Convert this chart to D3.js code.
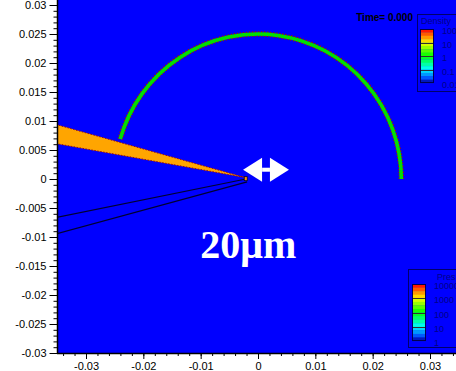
<!DOCTYPE html>
<html><head><meta charset="utf-8">
<script src="https://cdn.jsdelivr.net/npm/d3@7"></script>
<style>html,body{margin:0;padding:0;background:#fff;}svg{display:block;}</style>
</head><body>
<svg id="c" width="456" height="371"></svg>
<script>
// ---- data ----
const xMajorTicks = [-0.03, -0.02, -0.01, 0, 0.01, 0.02, 0.03];
const xTickLabels = ["-0.03", "-0.02", "-0.01", "0", "0.01", "0.02", "0.03"];
const yMajorTicks = [0.03, 0.025, 0.02, 0.015, 0.01, 0.005, 0, -0.005, -0.01, -0.015, -0.02, -0.025, -0.03];
const yTickLabels = ["0.03", "0.025", "0.02", "0.015", "0.01", "0.005", "0", "-0.005", "-0.01", "-0.015", "-0.02", "-0.025", "-0.03"];
// droplet ring (circle centre, radius, angular extent in degrees)
const ringCenter = [0, 0];
const ringRadius = 0.025;
const ringAngles = [0, 164];
// orange wedge (needle) polygon [x, y]
const wedgeX = [-0.00227, -0.0365, -0.0365];
const wedgeY = [0.00026, 0.00975, 0.00633];
// black outline lines of the lower needle
const line1X = [-0.0021, -0.0365];
const line1Y = [0.0, -0.0069];
const line2X = [-0.0019, -0.0365];
const line2Y = [-0.0005, -0.0098];
// annotation
const arrowX = [-0.0026, 0.0054];
const arrowY = 0.0016;
const scaleLabel = "20\u03bcm";
const scaleLabelPos = [-0.0017, -0.0136];
const timeLabel = "Time= 0.000";
// legends
const densityTitle = "Density";
const densityLevels = ["100", "10", "1", "0.1", "0.01"];
const presTitle = "Pres";
const presLevels = ["10000", "1000", "100", "10", "1"];
const bandColors = ["#ff1a00", "#ff5a00", "#ff9a00", "#ffd800",
                    "#d8ff00", "#98ff00", "#58ff00", "#18ff00",
                    "#00ff28", "#00ff68", "#00ffa8", "#00ffe8",
                    "#00d8ff", "#0098ff", "#0058ff", "#0018c0"];

// ---- layout ----
const svg = d3.select("#c");
const plot = {left: 58, right: 456, top: 0, bottom: 353};
const x = d3.scaleLinear().domain([-0.03, 0.03]).range([86, 430]);
const y = d3.scaleLinear().domain([-0.03, 0.03]).range([353, 5]);

svg.append("defs").append("clipPath").attr("id", "clip")
  .append("rect").attr("x", plot.left).attr("y", plot.top)
  .attr("width", plot.right - plot.left).attr("height", plot.bottom - plot.top);

svg.append("rect").attr("x", plot.left).attr("y", plot.top)
  .attr("width", plot.right - plot.left).attr("height", plot.bottom - plot.top)
  .attr("fill", "#0000ff");

const g = svg.append("g").attr("clip-path", "url(#clip)");

// wedge
const wedgePts = wedgeX.map((d, i) => [x(d), y(wedgeY[i])]);
g.append("path").attr("d", d3.line()(wedgePts) + "Z")
  .attr("fill", "#ffa500").attr("stroke", "#a01000").attr("stroke-width", 1)
  .attr("stroke-dasharray", "1.5,1.5");

// black lines
const ln = d3.line();
g.append("path").attr("d", ln(line1X.map((d, i) => [x(d), y(line1Y[i])])))
  .attr("fill", "none").attr("stroke", "#000030").attr("stroke-width", 1.1);
g.append("path").attr("d", ln(line2X.map((d, i) => [x(d), y(line2Y[i])])))
  .attr("fill", "none").attr("stroke", "#000030").attr("stroke-width", 1.1);
g.append("rect").attr("x", x(-0.0024)).attr("y", y(0.0004)).attr("width", 3).attr("height", 4)
  .attr("fill", "#ff9000").attr("stroke", "#000030").attr("stroke-width", 0.8);

// ring
const rx = x(ringRadius) - x(0), ry = y(0) - y(ringRadius);
const a0 = ringAngles[0] * Math.PI / 180, a1 = ringAngles[1] * Math.PI / 180;
const p0 = [x(ringCenter[0]) + rx * Math.cos(a0), y(ringCenter[1]) - ry * Math.sin(a0)];
const p1 = [x(ringCenter[0]) + rx * Math.cos(a1), y(ringCenter[1]) - ry * Math.sin(a1)];
const ringD = `M${p0[0]},${p0[1]} A${rx},${ry} 0 0 0 ${p1[0]},${p1[1]}`;
g.append("path").attr("d", ringD).attr("fill", "none")
  .attr("stroke", "#9a1a00").attr("stroke-width", 5.5).attr("stroke-dasharray", "1.5,1.5");
g.append("path").attr("d", ringD).attr("fill", "none")
  .attr("stroke", "#00e000").attr("stroke-width", 3.6);

// arrow
const ax0 = x(arrowX[0]), ax1 = x(arrowX[1]), ay = y(arrowY);
const baseL = ax0 + 19, baseR = ax1 - 19;
g.append("path").attr("d", `M${ax0},${ay} L${baseL},${ay - 12} L${baseL},${ay + 12} Z`).attr("fill", "#fff");
g.append("path").attr("d", `M${ax1},${ay} L${baseR},${ay - 12} L${baseR},${ay + 12} Z`).attr("fill", "#fff");
g.append("rect").attr("x", baseL).attr("y", ay - 2).attr("width", baseR - baseL).attr("height", 4).attr("fill", "#fff");

// scale label
g.append("text").attr("x", x(scaleLabelPos[0])).attr("y", y(scaleLabelPos[1]))
  .attr("text-anchor", "middle").attr("font-family", "Liberation Serif, Times New Roman, serif")
  .attr("font-weight", "bold").attr("font-size", 40).attr("fill", "#fff").text(scaleLabel);

// time label
svg.append("text").attr("x", 413).attr("y", 21).attr("text-anchor", "end")
  .attr("font-family", "Liberation Sans, Arial, sans-serif").attr("font-weight", "bold")
  .attr("font-size", 10).attr("fill", "#000").text(timeLabel);

// legends
function legend(bx, by, bw, bh, barX, barTop, barBot, title, titleX, titleY, levels, labelX) {
  const lg = svg.append("g");
  lg.append("rect").attr("x", bx + 0.5).attr("y", by + 0.5).attr("width", bw).attr("height", bh)
    .attr("fill", "none").attr("stroke", "#00006a").attr("stroke-width", 1);
  lg.append("text").attr("x", titleX).attr("y", titleY).attr("font-family", "Liberation Sans, Arial, sans-serif")
    .attr("font-size", 9).attr("fill", "#00008a").text(title);
  const by2 = d3.scaleBand().domain(d3.range(bandColors.length)).range([barTop, barBot]);
  lg.selectAll(".band").data(bandColors).join("rect")
    .attr("x", barX).attr("y", (d, i) => by2(i)).attr("width", 14).attr("height", by2.bandwidth() + 0.3)
    .attr("fill", d => d);
  const ly = d3.scalePoint().domain(levels).range([barTop + 1, barBot + 1]);
  lg.selectAll(".sep").data(levels.slice(1, -1)).join("line")
    .attr("x1", barX).attr("x2", barX + 14).attr("y1", d => Math.round(ly(d)) - 0.5).attr("y2", d => Math.round(ly(d)) - 0.5)
    .attr("stroke", "#303030").attr("stroke-width", 1);
  lg.append("rect").attr("x", barX + 0.5).attr("y", barTop + 0.5).attr("width", 13).attr("height", barBot - barTop - 1)
    .attr("fill", "none").attr("stroke", "#000050").attr("stroke-width", 1);
  lg.selectAll(".lab").data(levels).join("text")
    .attr("x", labelX).attr("y", d => ly(d) + 4)
    .attr("font-family", "Liberation Sans, Arial, sans-serif").attr("font-size", 9)
    .attr("fill", "#00008a").text(d => d);
}
legend(417, 14, 45, 77, 420, 29, 83, densityTitle, 421, 24, densityLevels, 442);
legend(408, 269, 55, 78, 412, 284, 341, presTitle, 437, 280, presLevels, 434);

// axes
const font = "Liberation Sans, Arial, sans-serif";
const xMinor = d3.range(-34, 35, 2).map(d => d / 1000);
const yMinor = d3.range(-30, 31, 1).map(d => d / 1000);

const xAxisG = svg.append("g").attr("transform", `translate(0,${plot.bottom})`);
xAxisG.call(d3.axisBottom(x).tickValues(xMinor).tickSize(3).tickFormat(""));
xAxisG.append("g").call(d3.axisBottom(x).tickValues(xMajorTicks).tickSize(6).tickPadding(3)
  .tickFormat((d, i) => xTickLabels[i]));
xAxisG.selectAll(".domain").remove();
xAxisG.append("line").attr("x1", plot.left - 1).attr("x2", plot.right).attr("y1", 0.5).attr("y2", 0.5)
  .attr("stroke", "#000").attr("stroke-width", 1.5);

const yAxisG = svg.append("g").attr("transform", `translate(${plot.left - 0.5},0)`);
yAxisG.call(d3.axisLeft(y).tickValues(yMinor).tickSize(4).tickFormat(""));
yAxisG.append("g").call(d3.axisLeft(y).tickValues(yMajorTicks).tickSize(8).tickPadding(3)
  .tickFormat((d, i) => yTickLabels[i]));
yAxisG.selectAll(".domain").remove();
yAxisG.append("line").attr("x1", 0).attr("x2", 0).attr("y1", 0).attr("y2", plot.bottom + 1)
  .attr("stroke", "#000").attr("stroke-width", 1.5);

svg.selectAll(".tick text").attr("font-family", font).attr("font-size", 11).attr("fill", "#000");
svg.selectAll(".tick line").attr("stroke", "#000");
</script>
</body></html>
